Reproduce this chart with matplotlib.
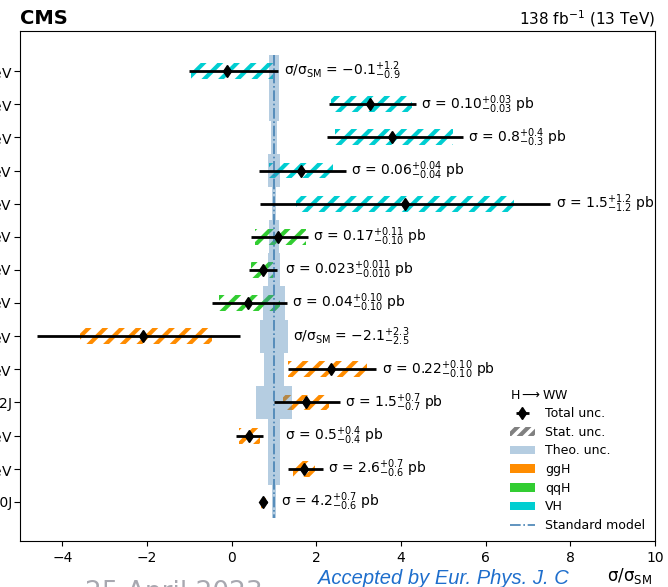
'''
H->WW STXS cross sections relative to the standard model
'''

import matplotlib
matplotlib.use('Agg')
import matplotlib.pyplot as plt
from matplotlib.patches import Patch
from matplotlib.lines import Line2D

plt.rcParams['hatch.linewidth'] = 3.0
plt.rcParams['font.size'] = 10

# bins, listed from top to bottom
BIN_LABELS = [
    r'WH, $p_{T}^{V}$ > 150 GeV',
    r'WH, 75 < $p_{T}^{V}$ < 150 GeV',
    r'WH, $p_{T}^{V}$ < 75 GeV',
    r'ZH, $p_{T}^{V}$ > 150 GeV',
    r'ZH, $p_{T}^{V}$ < 150 GeV',
    r'qqH, $m_{jj}$ > 700 GeV',
    r'qqH, 350 < $m_{jj}$ < 700 GeV',
    r'qqH, $m_{jj}$ < 350 GeV',
    r'ggH, $p_{T}^{H}$ > 200 GeV',
    r'ggH 1J, 120 < $p_{T}^{H}$ < 200 GeV',
    r'ggH $\geq$2J',
    r'ggH 1J, 60 < $p_{T}^{H}$ < 120 GeV',
    r'ggH 1J, $p_{T}^{H}$ < 60 GeV',
    r'ggH 0J',
]
PROCESS = ['VH'] * 5 + ['qqH'] * 3 + ['ggH'] * 6

MU = [-0.1, 3.27, 3.79, 1.64, 4.09, 1.10, 0.73, 0.38, -2.1, 2.34, 1.76, 0.41, 1.71, 0.74]
TOT_DN = [0.9, 0.97, 1.54, 0.99, 3.43, 0.64, 0.32, 0.84, 2.5, 1.02, 0.76, 0.30, 0.39, 0.07]
TOT_UP = [1.2, 1.08, 1.67, 1.06, 3.44, 0.71, 0.34, 0.92, 2.3, 1.08, 0.80, 0.33, 0.44, 0.09]
STAT_DN = [0.85, 0.92, 1.35, 0.75, 2.57, 0.55, 0.28, 0.69, 1.49, 1.0, 0.55, 0.23, 0.27, 0.04]
STAT_UP = [1.07, 0.99, 1.44, 0.75, 2.58, 0.65, 0.24, 0.75, 1.64, 0.86, 0.55, 0.26, 0.27, 0.07]
THEO = [0.11, 0.11, 0.07, 0.13, 0.055, 0.12, 0.15, 0.25, 0.34, 0.24, 0.43, 0.15, 0.15, 0.04]

RESULTS = [
    r'σ/σ$_{\rm SM}$ = $-0.1^{+1.2}_{-0.9}$',
    r'σ = $0.10^{+0.03}_{-0.03}$ pb',
    r'σ = $0.8^{+0.4}_{-0.3}$ pb',
    r'σ = $0.06^{+0.04}_{-0.04}$ pb',
    r'σ = $1.5^{+1.2}_{-1.2}$ pb',
    r'σ = $0.17^{+0.11}_{-0.10}$ pb',
    r'σ = $0.023^{+0.011}_{-0.010}$ pb',
    r'σ = $0.04^{+0.10}_{-0.10}$ pb',
    r'σ/σ$_{\rm SM}$ = $-2.1^{+2.3}_{-2.5}$',
    r'σ = $0.22^{+0.10}_{-0.10}$ pb',
    r'σ = $1.5^{+0.7}_{-0.7}$ pb',
    r'σ = $0.5^{+0.4}_{-0.4}$ pb',
    r'σ = $2.6^{+0.7}_{-0.6}$ pb',
    r'σ = $4.2^{+0.7}_{-0.6}$ pb',
]

COLORS = {'ggH': 'darkorange', 'qqH': 'limegreen', 'VH': 'darkturquoise'}
SM_COLOR = 'steelblue'

fig = plt.figure(figsize=(6.68, 5.87), dpi=100)
ax = fig.add_axes([20/668, 46/587, 635/668, 510/587])

rows = list(range(len(MU)))

# stat. uncertainty boxes
for i in rows:
  lo = MU[i] - STAT_DN[i]
  ax.add_patch(plt.Rectangle((lo, i - 0.24), STAT_DN[i] + STAT_UP[i], 0.48,
                             fill=False, hatch='//', edgecolor=COLORS[PROCESS[i]],
                             linewidth=0, zorder=1))

# theory uncertainty on the SM prediction
ax.barh(rows, [2 * t for t in THEO], left=[1 - t for t in THEO], height=1.0,
        color=SM_COLOR, alpha=0.4, linewidth=0, zorder=2)
ax.plot([1, 1], [-0.5, len(MU) - 0.5], ls='-.', color=SM_COLOR, lw=1.2, zorder=3)

# best fit with total uncertainty
eb = ax.errorbar(MU, rows, xerr=[TOT_DN, TOT_UP], fmt='d', color='k', ecolor='k',
                 elinewidth=2, markersize=6.5, capsize=0, zorder=4)

for i in rows:
  x = max(MU[i] + TOT_UP[i], 1 + THEO[i]) + 0.12
  ax.text(x, i, RESULTS[i], va='center', ha='left', fontsize=10, zorder=5)

ax.set_xlim(-5, 10)
ax.set_ylim(14.18, -1.21)
ax.set_yticks(rows)
ax.set_yticklabels(BIN_LABELS)
ax.tick_params(axis='y', length=4, pad=1.5)

ax.set_title('CMS', loc='left', fontweight='bold', fontsize=14, pad=4)
ax.set_title(r'138 fb$^{-1}$ (13 TeV)', loc='right', fontsize=11, pad=5)

handles = [
    eb,
    Patch(facecolor='none', edgecolor='gray', hatch='///', linewidth=0),
    Patch(facecolor=SM_COLOR, alpha=0.4, linewidth=0),
    Patch(facecolor=COLORS['ggH'], linewidth=0),
    Patch(facecolor=COLORS['qqH'], linewidth=0),
    Patch(facecolor=COLORS['VH'], linewidth=0),
    Line2D([], [], ls='-.', color=SM_COLOR, lw=1.2),
]
names = ['Total unc.', 'Stat. unc.', 'Theo. unc.', 'ggH', 'qqH', 'VH', 'Standard model']
leg = ax.legend(handles, names, title=r'H$\longrightarrow$WW', frameon=False,
                loc='lower right', bbox_to_anchor=(0.992, 0.008), borderaxespad=0,
                fontsize=9, title_fontsize=9, labelspacing=0.45, handlelength=2.0)
leg._legend_box.align = 'left'

fig.text(652/668, 1 - 581/587, r'σ/σ$_{\rm SM}$', ha='right', va='baseline', fontsize=12)
fig.text(318/668, 1 - 584/587, 'Accepted by Eur. Phys. J. C', ha='left', va='baseline',
         fontsize=14.5, style='italic', family='Liberation Sans', color='#1e6ecc')
fig.text(85/668, 1 - 580/587, '25 April 2023', ha='left', va='top',
         fontsize=19, family='DejaVu Sans', color='#a8a8b0')

fig.savefig('out.png', dpi=100)
